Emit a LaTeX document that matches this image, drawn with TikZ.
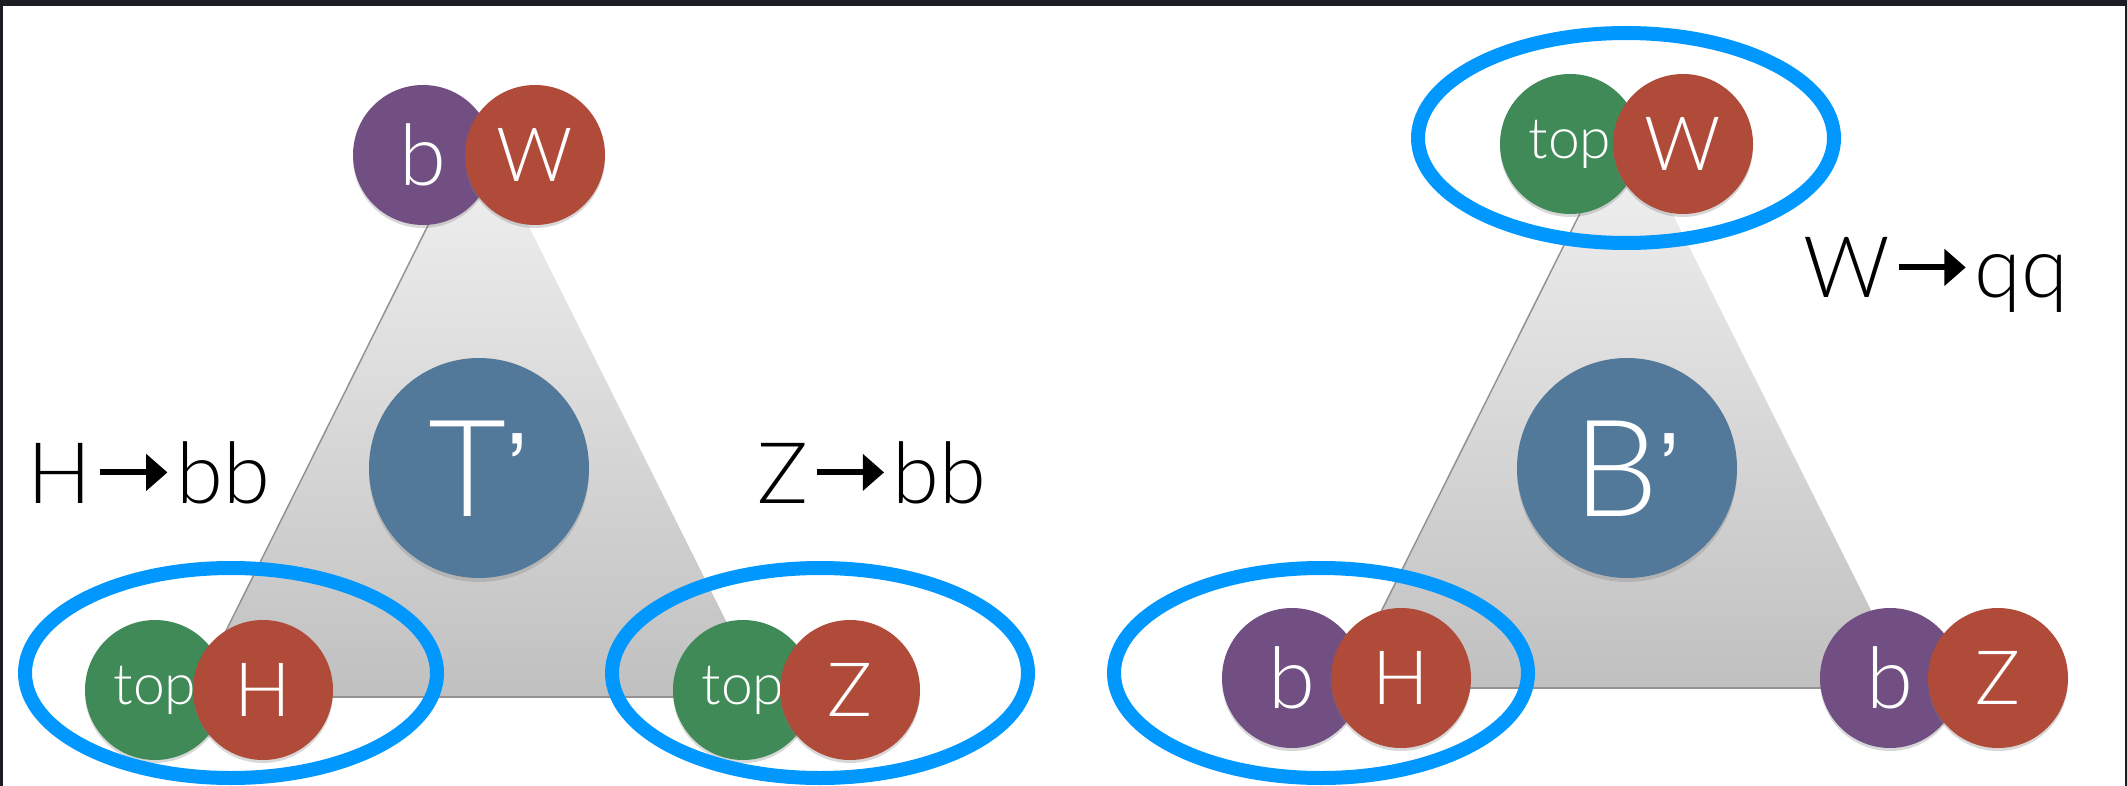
\documentclass[tikz,border=0pt]{standalone}
\usepackage{fontspec}
\IfFontExistsTF{Lato Light}{\setmainfont{Lato Light}}{\setmainfont{TeX Gyre Heros}}
\newfontfamily\apfont{TeX Gyre Heros}
\usetikzlibrary{arrows.meta,shadows,shapes.geometric}

\definecolor{cpurple}{RGB}{114,79,130}
\definecolor{cred}{RGB}{176,75,58}
\definecolor{cgreen}{RGB}{64,138,88}
\definecolor{cblue}{RGB}{82,121,153}
\definecolor{ringblue}{RGB}{0,152,255}
\definecolor{cframe}{RGB}{28,29,34}
\definecolor{tritop}{RGB}{243,243,243}
\definecolor{tribot}{RGB}{192,192,192}
\definecolor{triedge}{RGB}{150,146,146}

\newcommand{\rarr}{\hspace{0.07em}\tikz[baseline=0pt]{\draw[line width=0.07em,black,-{Triangle[length=0.25em,width=0.42em]}] (0pt,0.36em) -- (0.79em,0.36em);}\hspace{0.07em}}
\newcommand{\apos}{\raisebox{10pt}{\apfont\fontsize{100}{110}\selectfont ’}}

\begin{document}
\begin{tikzpicture}[x=1pt,y=-1pt,
  pc/.style={circle,minimum size=140pt,inner sep=0pt,text=white,
    drop shadow={opacity=0.3,shadow xshift=0pt,shadow yshift=-3pt}},
  bigc/.style={circle,minimum size=220pt,inner sep=0pt,fill=cblue,text=white,
    font=\fontsize{135}{140}\selectfont,
    drop shadow={opacity=0.3,shadow xshift=0pt,shadow yshift=-4pt}},
  fb/.style={font=\fontsize{85}{90}\selectfont},
  fc/.style={font=\fontsize{75}{80}\selectfont},
  ft/.style={font=\fontsize{57}{60}\selectfont},
  lbl/.style={font=\fontsize{85}{90}\selectfont,inner sep=0pt,anchor=base west},
  ringst/.style={ellipse,draw=ringblue,line width=14pt,inner sep=0pt},
  tri/.style={top color=tritop,bottom color=tribot}
]
\path[use as bounding box] (0,0) rectangle (2127,786);
\fill[white] (0,0) rectangle (2127,786);
\fill[cframe] (0,0) rectangle (2127,6);
\fill[cframe] (0,0) rectangle (3,786);
\fill[cframe] (2125,0) rectangle (2127,786);

% left triangle
\coordinate (tA) at (478,125);
\coordinate (tL) at (193,697);
\coordinate (tR) at (764,697);
\shade[tri] (tL) -- (tA) -- (tR) -- cycle;
\draw[triedge,line width=1.5pt] (tL) -- (tA);
\draw[triedge,line width=2pt] (tL) -- (tR);

% right triangle
\coordinate (bA) at (1626,121);
\coordinate (bL) at (1343,688);
\coordinate (bR) at (1910,688);
\shade[tri] (bL) -- (bA) -- (bR) -- cycle;
\draw[triedge,line width=1.5pt] (bL) -- (bA);
\draw[triedge,line width=2pt] (bL) -- (bR);

% big circles
\node[bigc,text height=97pt,text depth=0pt] (Tp) at (479,468) {T\apos};
\node[bigc,text height=97pt,text depth=0pt] (Bp) at (1627,468) {B\apos};

% T' pairs
\node[pc,fill=cpurple,fb] (b1) at (423,155) {b};
\node[pc,fill=cred,fc] (W1) at (535,155) {W};
\node[pc,fill=cgreen,ft] (t1) at (155,690) {top};
\node[pc,fill=cred,fc] (H1) at (263,690) {H};
\node[pc,fill=cgreen,ft] (t2) at (743,690) {top};
\node[pc,fill=cred,fc] (Z1) at (850,690) {Z};

% B' pairs
\node[pc,fill=cgreen,ft] (t3) at (1570,144) {top};
\node[pc,fill=cred,fc] (W2) at (1683,144) {W};
\node[pc,fill=cpurple,fb] (b2) at (1292,678) {b};
\node[pc,fill=cred,fc] (H2) at (1401,678) {H};
\node[pc,fill=cpurple,fb] (b3) at (1890,678) {b};
\node[pc,fill=cred,fc] (Z2) at (1998,678) {Z};

% labels
\node[lbl] (lH) at (27,503) {H\rarr bb};
\node[lbl] (lZ) at (757,503) {Z\rarr bb};
\node[lbl] (lW) at (1803,298) {W\rarr qq};

% blue rings
\node[ringst,minimum width=412pt,minimum height=210pt] (e1) at (231,673) {};
\node[ringst,minimum width=416pt,minimum height=210pt] (e2) at (820,673) {};
\node[ringst,minimum width=414pt,minimum height=210pt] (e3) at (1321,673) {};
\node[ringst,minimum width=416pt,minimum height=210pt] (e4) at (1626,138) {};
\end{tikzpicture}
\end{document}
